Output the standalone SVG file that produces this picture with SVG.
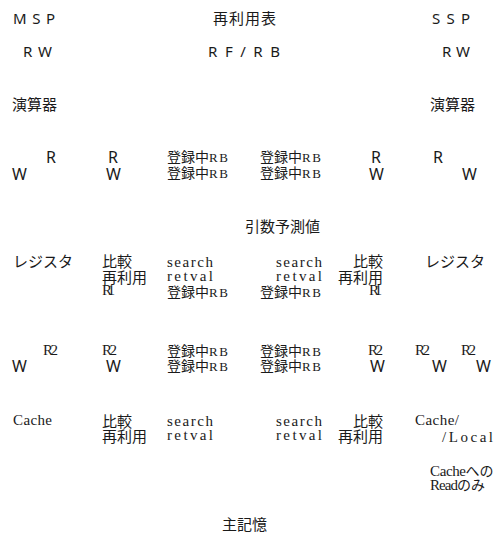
<svg xmlns="http://www.w3.org/2000/svg" width="500" height="534" viewBox="0 0 500 534">
<style>
text{fill:#1a1a1a}
.s{font-family:"Noto Sans","Noto Sans CJK JP",sans-serif;font-size:15px}
.w{font-family:"Noto Sans","Noto Sans CJK JP",sans-serif;font-size:16px}
.j{font-family:"Noto Sans CJK JP","Noto Sans",sans-serif;font-size:15px}
.k{font-family:"Noto Sans CJK JP","Noto Sans",sans-serif;font-size:14px}
.m{font-family:"Liberation Serif","Noto Sans CJK JP",serif;font-size:15px}
.rb{font-family:"Liberation Serif",serif;font-size:13px}
.e{text-anchor:end}
</style>
<rect width="500" height="534" fill="#fff"/>
<g id="connectors"/>
<g id="header">
<text class="s" x="13" y="24" textLength="42" lengthAdjust="spacing">M S P</text>
<text class="j" x="213" y="24" textLength="63">再利用表</text>
<text class="s" x="432" y="24" textLength="38">S S P</text>
<text class="s" x="23" y="57" textLength="29">RW</text>
<text class="s" x="208" y="57" textLength="72">R F / R B</text>
<text class="s" x="442" y="57" textLength="28">RW</text>
</g>
<g id="alu">
<text class="j" x="12" y="110">演算器</text>
<text class="j" x="430" y="110">演算器</text>
</g>
<g id="rw-row1">
<text class="w" x="46" y="163">R</text>
<text class="w" x="12" y="180">W</text>
<text class="w" x="108" y="163">R</text>
<text class="w" x="106" y="180">W</text>
<text class="k" x="167" y="162">登録中<tspan class="rb" textLength="19">RB</tspan></text>
<text class="k" x="167" y="178">登録中<tspan class="rb" textLength="19">RB</tspan></text>
<text class="k" x="260" y="162">登録中<tspan class="rb" textLength="19">RB</tspan></text>
<text class="k" x="260" y="178">登録中<tspan class="rb" textLength="19">RB</tspan></text>
<text class="w" x="371" y="163">R</text>
<text class="w" x="369" y="180">W</text>
<text class="w" x="433" y="163">R</text>
<text class="w" x="462" y="180">W</text>
</g>
<g id="arg-predict">
<text class="j" x="245" y="232">引数予測値</text>
</g>
<g id="register-row">
<text class="j" x="13" y="267">レジスタ</text>
<text class="j" x="102" y="267">比較</text>
<text class="j" x="102" y="283">再利用</text>
<text class="m" x="102" y="295" textLength="13">R1</text>
<text class="m" x="167" y="267" textLength="46">search</text>
<text class="m" x="167" y="281" textLength="46">retval</text>
<text class="k" x="167" y="297">登録中<tspan class="rb" textLength="19">RB</tspan></text>
<text class="m" x="276" y="267" textLength="46">search</text>
<text class="m" x="276" y="281" textLength="46">retval</text>
<text class="k" x="260" y="297">登録中<tspan class="rb" textLength="19">RB</tspan></text>
<text class="j e" x="383" y="267">比較</text>
<text class="j e" x="383" y="283">再利用</text>
<text class="m" x="369" y="295" textLength="13">R1</text>
<text class="j" x="425" y="267">レジスタ</text>
</g>
<g id="rw-row2">
<text class="m" x="43" y="355" textLength="15">R2</text>
<text class="w" x="12" y="372">W</text>
<text class="m" x="102" y="355" textLength="15">R2</text>
<text class="w" x="106" y="372">W</text>
<text class="k" x="167" y="356">登録中<tspan class="rb" textLength="19">RB</tspan></text>
<text class="k" x="167" y="371">登録中<tspan class="rb" textLength="19">RB</tspan></text>
<text class="k" x="260" y="356">登録中<tspan class="rb" textLength="19">RB</tspan></text>
<text class="k" x="260" y="371">登録中<tspan class="rb" textLength="19">RB</tspan></text>
<text class="m" x="368" y="355" textLength="15">R2</text>
<text class="w" x="370" y="372">W</text>
<text class="m" x="415" y="355" textLength="15">R2</text>
<text class="w" x="432" y="372">W</text>
<text class="m" x="461" y="355" textLength="15">R2</text>
<text class="w" x="476" y="372">W</text>
</g>
<g id="cache-row">
<text class="m" x="13" y="425" textLength="39">Cache</text>
<text class="j" x="102" y="427">比較</text>
<text class="j" x="102" y="442">再利用</text>
<text class="m" x="167" y="426" textLength="46">search</text>
<text class="m" x="167" y="440" textLength="46">retval</text>
<text class="m" x="276" y="426" textLength="46">search</text>
<text class="m" x="276" y="440" textLength="46">retval</text>
<text class="j e" x="383" y="427">比較</text>
<text class="j e" x="383" y="442">再利用</text>
<text class="m" x="415" y="425" textLength="44">Cache/</text>
<text class="m" x="442" y="442" textLength="51">/Local</text>
</g>
<g id="note">
<text class="k" x="430" y="476"><tspan class="m" textLength="36">Cache</tspan>への</text>
<text class="k" x="430" y="490"><tspan class="m" textLength="28">Read</tspan>のみ</text>
</g>
<g id="main-memory">
<text class="j" x="222" y="530">主記憶</text>
</g>
</svg>
